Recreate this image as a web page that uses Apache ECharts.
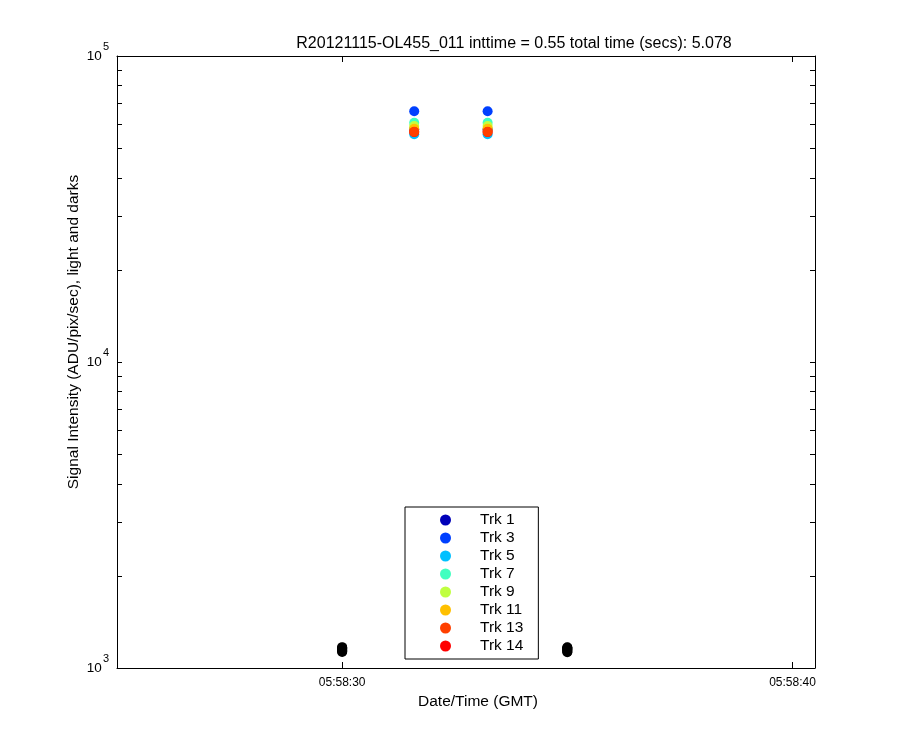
<!DOCTYPE html>
<html>
<head>
<meta charset="utf-8">
<script src="https://cdn.jsdelivr.net/npm/echarts@6/dist/echarts.min.js"></script>
<style>
html,body{margin:0;padding:0;background:#fff;}
#chart{width:900px;height:750px;}
</style>
</head>
<body>
<div id="chart"></div>
<script>
// ---- data ----
const titleText = 'R20121115-OL455_011 inttime = 0.55 total time (secs): 5.078';
const trackNames = ['Trk 1', 'Trk 3', 'Trk 5', 'Trk 7', 'Trk 9', 'Trk 11', 'Trk 13', 'Trk 14'];
const trackColors = ['#0000b8', '#0040ff', '#00c0ff', '#40ffc0', '#c0ff40', '#ffc000', '#ff4000', '#ff0000'];
// light frames: seconds after 05:58:00
const lightTimes = [31.6, 33.23];
const trk1 = [57500, 57500];
const trk3 = [66000, 66000];
const trk5 = [55500, 55500];
const trk7 = [60500, 60500];
const trk9 = [59000, 59000];
const trk11 = [57800, 57800];
const trk13 = [56500, 56500];
const trk14 = [56400, 56400];
const trackValues = [trk1, trk3, trk5, trk7, trk9, trk11, trk13, trk14];
// dark frames
const darkTimes = [30.0, 35.0];
const dark30 = [1128, 1135, 1142, 1148, 1154, 1160, 1165, 1170];
const dark35 = [1126, 1133, 1140, 1147, 1153, 1159, 1164, 1169];
const darkValues = [dark30, dark35];
// axes
const xMin = 25, xMax = 40.5;
const xTickValues = [30, 40];
const yMajor = [1000, 10000, 100000];
const yMinor = [];
for (let d = 1000; d < 100000; d *= 10) {
  for (let k = 1; k < 10; k++) yMinor.push(k * d);
}
yMinor.push(100000);

function fmtTime(v) {
  const s = Math.round(v);
  return '05:58:' + (s < 10 ? '0' + s : '' + s);
}
function fmtPow(v) {
  const e = Math.round(Math.log10(v));
  return '{b|10}{s|' + e + '}';
}

const FONT = 'Liberation Sans, Arial, sans-serif';

// ---- build series ----
const series = [];
darkTimes.forEach((t, i) => {
  series.push({
    name: 'dark' + i,
    type: 'scatter',
    symbol: 'circle',
    symbolSize: 10,
    itemStyle: { color: '#000000', opacity: 1 },
    data: darkValues[i].map(v => [t, v]),
    silent: true,
    z: 2
  });
});
const drawOrder = [0, 1, 2, 3, 4, 5, 7, 6];
drawOrder.forEach((idx, n) => {
  series.push({
    name: trackNames[idx],
    type: 'scatter',
    symbol: 'circle',
    symbolSize: 10,
    itemStyle: { color: trackColors[idx], opacity: 1 },
    data: trackValues[idx].map((v, j) => [lightTimes[j], v]),
    z: 3 + n
  });
});

const axisLineStyle = { lineStyle: { color: '#000', width: 1 } };
const chart = echarts.init(document.getElementById('chart'), null, { renderer: 'canvas' });
chart.setOption({
  animation: false,
  backgroundColor: '#ffffff',
  textStyle: { fontFamily: FONT, color: '#000' },
  title: {
    text: titleText,
    left: 509, top: 31, textAlign: 'center',
    textStyle: { fontSize: 16, fontWeight: 'normal', color: '#000', fontFamily: FONT }
  },
  grid: { left: 117, top: 56, right: 85, bottom: 82, outerBoundsMode: 'none', containLabel: false, show: false },
  legend: {
    data: trackNames,
    orient: 'vertical',
    left: 405, top: 507,
    padding: [5, 15, 5, 35],
    backgroundColor: '#fff',
    borderColor: '#000', borderWidth: 1,
    itemWidth: 11, itemHeight: 11, itemGap: 2,
    icon: 'circle',
    textStyle: { fontSize: 15.5, color: '#000', lineHeight: 16, padding: [0, 0, 0, 24], fontFamily: FONT },
    selectedMode: false
  },
  xAxis: [{
    type: 'value', position: 'bottom', min: xMin, max: xMax,
    name: 'Date/Time (GMT)', nameLocation: 'middle', nameGap: 26,
    nameTextStyle: { fontSize: 15.5, color: '#000', padding: [0, 0, 0, 24], fontFamily: FONT },
    axisLine: axisLineStyle,
    axisTick: { show: true, inside: true, length: 6, customValues: xTickValues, lineStyle: { color: '#000' } },
    axisLabel: { show: true, customValues: xTickValues, formatter: fmtTime, fontSize: 12, color: '#000', margin: 9, fontFamily: FONT },
    splitLine: { show: false }
  }, {
    type: 'value', position: 'top', min: xMin, max: xMax,
    axisLine: axisLineStyle,
    axisTick: { show: true, inside: true, length: 6, customValues: xTickValues, lineStyle: { color: '#000' } },
    axisLabel: { show: false },
    splitLine: { show: false }
  }],
  yAxis: [{
    type: 'log', logBase: 10, position: 'left', min: 1000, max: 100000,
    name: 'Signal Intensity (ADU/pix/sec), light and darks', nameLocation: 'middle', nameGap: 35,
    nameMoveOverlap: false,
    nameTextStyle: { fontSize: 15.5, color: '#000', padding: [0, 0, 0, 60], fontFamily: FONT },
    axisLine: axisLineStyle,
    axisTick: { show: true, inside: true, length: 5, customValues: yMinor, lineStyle: { color: '#000' } },
    axisLabel: {
      show: true, customValues: yMajor, formatter: fmtPow, margin: 8,
      rich: {
        b: { fontSize: 13.5, color: '#000', fontFamily: FONT },
        s: { fontSize: 11, color: '#000', padding: [0, 0, 18, 1], fontFamily: FONT }
      }
    },
    splitLine: { show: false }
  }, {
    type: 'log', logBase: 10, position: 'right', min: 1000, max: 100000,
    axisLine: axisLineStyle,
    axisTick: { show: true, inside: true, length: 5, customValues: yMinor, lineStyle: { color: '#000' } },
    axisLabel: { show: false },
    splitLine: { show: false }
  }],
  series: series
});
</script>
</body>
</html>
